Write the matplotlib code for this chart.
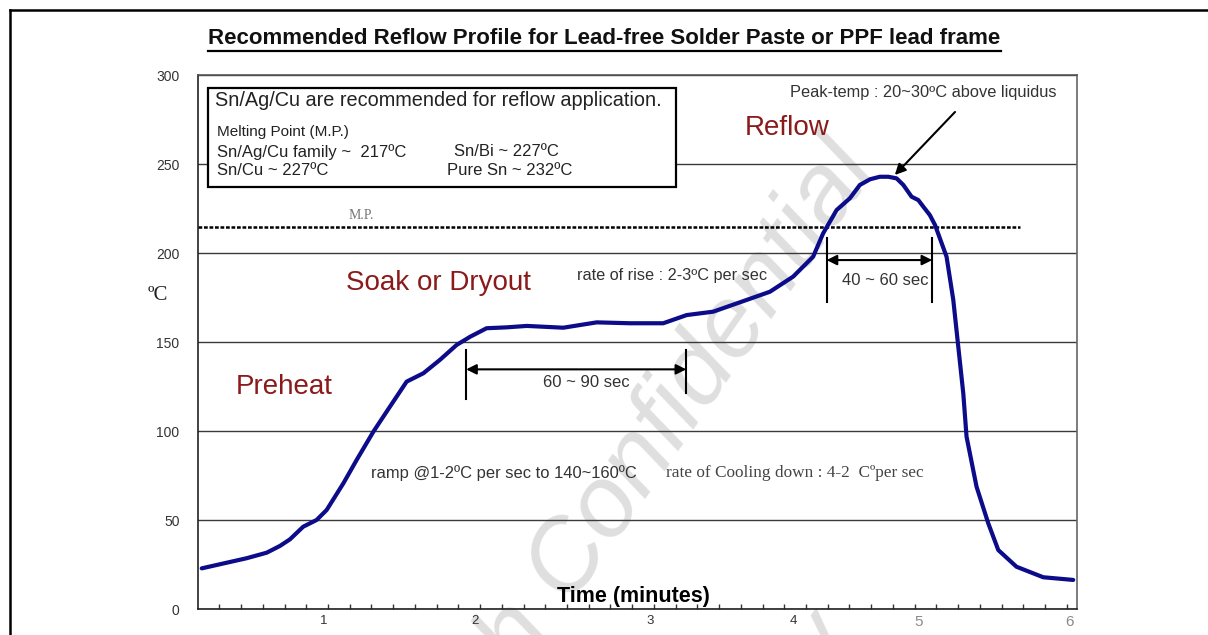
import matplotlib
matplotlib.use("Agg")
import matplotlib.pyplot as plt
from matplotlib.patches import Rectangle
from matplotlib.lines import Line2D

W, H = 1208, 635

# Oven profile: sample index along the time axis (one minor tick per step) and temperature in degC
time_idx = [0.19, 2.26, 3.18, 3.79, 4.25, 4.86, 5.48, 5.94, 6.71, 7.32, 8.09, 8.85,
            9.62, 10.39, 11.15, 11.92, 12.54, 13.30, 14.22, 15.15, 16.83, 18.37,
            19.90, 21.43, 22.51, 23.73, 25.27, 26.34, 27.41, 28.33, 28.79, 29.41,
            30.02, 30.48, 30.95, 31.40, 31.79, 32.17, 32.48, 32.86, 33.17, 33.40,
            33.70, 33.94, 34.47, 34.78, 35.01, 35.24, 35.39, 35.85, 36.39, 36.85,
            37.69, 38.92, 40.30]
temp_c = [23.0, 28.7, 31.8, 35.6, 39.3, 46.4, 50.2, 55.8, 70.8, 83.9, 99.8, 113.8,
          127.9, 132.6, 140.1, 148.5, 153.1, 157.9, 158.4, 159.2, 158.2, 161.2,
          160.7, 160.7, 165.3, 167.2, 173.8, 178.4, 186.9, 198.1, 211.2, 224.3,
          230.9, 238.4, 241.6, 243.0, 243.0, 242.1, 238.4, 231.8, 229.9, 226.2,
          221.5, 215.9, 198.1, 173.8, 147.5, 121.3, 97.0, 68.9, 48.3, 33.3,
          23.9, 18.0, 16.5]

minute_pos = [5.82, 12.77, 20.85, 27.41, 33.20, 40.15]
minute_lbl = ["1", "2", "3", "4", "5", "6"]
temp_ticks = [0, 50, 100, 150, 200, 250, 300]
melting_point = 215
x_max = 40.46

soak_span = (12.36, 22.49)     # 60 ~ 90 sec
liquid_span = (28.95, 33.81)   # 40 ~ 60 sec

plt.rcParams["font.family"] = ["Liberation Sans", "DejaVu Sans"]

fig = plt.figure(figsize=(W / 100, H / 100), dpi=100)
fig.patch.set_facecolor("white")


def fx(px):
    return px / W


def fy(py):
    return 1 - py / H


ax = fig.add_axes([fx(197.6), fy(609.3), (1076.7 - 197.6) / W, (609.3 - 75.3) / H])
ax.patch.set_visible(False)
ax.set_xlim(0, x_max)
ax.set_ylim(0, 300)

# y axis
ax.set_yticks(temp_ticks)
ax.set_yticklabels([str(t) for t in temp_ticks], fontsize=10, color="#333333")
ax.tick_params(axis="y", length=0, pad=13)
ax.yaxis.grid(True, color="#3a3a3a", lw=1.0)
ax.set_axisbelow(True)

# x axis: minute labels plus one minor tick per sample step
ax.set_xticks(minute_pos)
ax.set_xticklabels(minute_lbl, fontsize=9.5, color="#333333")
ax.set_xticks(range(1, 41), minor=True)
ax.tick_params(axis="x", which="major", length=0, pad=4)
ax.tick_params(axis="x", which="minor", length=3.5, direction="in", width=1, color="#333333")
for i, t in enumerate(ax.get_xticklabels()):
    if i >= 4:
        t.set_color("#8a8a8a")
        t.set_fontfamily(["Liberation Sans Narrow", "Liberation Sans"])
        t.set_fontsize(11)

for side, col in (("left", "#222222"), ("bottom", "#222222"), ("top", "#555555"), ("right", "#666666")):
    ax.spines[side].set_color(col)
    ax.spines[side].set_linewidth(1.2)

# profile curve
ax.plot(time_idx, temp_c, color="#0c0c8a", lw=3.0, solid_joinstyle="round",
        solid_capstyle="round", zorder=4)

# melting point line
ax.plot([0, 37.85], [melting_point, melting_point], color="black", lw=1.8,
        linestyle=(0, (1.5, 0.7)), zorder=3)
ax.text(7.55, 221.5, "M.P.", fontsize=10, color="#777777", family="Liberation Serif",
        ha="center", va="center")

# info box
ax.add_patch(Rectangle((0.48, 237.3), 21.54, 55.8, facecolor="white", edgecolor="black",
                       lw=1.6, zorder=3))
box_txt = dict(color="#222222", va="center", zorder=5)
ax.text(0.8, 285.6, "Sn/Ag/Cu are recommended for reflow application.", fontsize=14.3, **box_txt)
ax.text(0.9, 268.0, "Melting Point (M.P.)", fontsize=11, **box_txt)
ax.text(0.9, 257.0, "Sn/Ag/Cu family ~  217ºC", fontsize=12, **box_txt)
ax.text(11.8, 257.0, "Sn/Bi ~ 227ºC", fontsize=12, **box_txt)
ax.text(0.9, 246.5, "Sn/Cu ~ 227ºC", fontsize=12, **box_txt)
ax.text(11.5, 246.5, "Pure Sn ~ 232ºC", fontsize=12, **box_txt)

# zone names
zone = dict(fontsize=20, color="#8b1a1a", ha="center", va="center", zorder=5)
ax.text(27.12, 270.4, "Reflow", **zone)
ax.text(11.10, 183.1, "Soak or Dryout", **zone)
ax.text(3.98, 125.1, "Preheat", **zone)

# notes
note = dict(color="#333333", ha="center", va="center", zorder=5)
ax.text(33.38, 290.4, "Peak-temp : 20~30ºC above liquidus", fontsize=11.8, **note)
ax.text(21.82, 187.8, "rate of rise : 2-3ºC per sec", fontsize=11.7, **note)
ax.text(14.08, 76.4, "ramp @1-2ºC per sec to 140~160ºC", fontsize=11.9, **note)
ax.text(27.49, 76.7, "rate of Cooling down : 4-2  Cºper sec", fontsize=12.4, color="#444444",
        family="Liberation Serif", ha="center", va="center", zorder=5)
ax.text(17.89, 127.3, "60 ~ 90 sec", fontsize=12, **note)
ax.text(31.64, 184.6, "40 ~ 60 sec", fontsize=12, **note)

# peak arrow
ax.annotate("", xy=(32.09, 244.0), xytext=(34.86, 279.4),
            arrowprops=dict(arrowstyle="-|>", color="black", lw=1.5, mutation_scale=16,
                            shrinkA=0, shrinkB=0), zorder=6)

# duration arrows with end bars
for (x0, x1), y, bars in ((soak_span, 134.8, ((145.7, 118.1), (145.7, 121.7))),
                          (liquid_span, 196.2, ((208.4, 172.8), (208.4, 172.8)))):
    ax.annotate("", xy=(x1, y), xytext=(x0, y),
                arrowprops=dict(arrowstyle="<|-|>", color="black", lw=1.5, mutation_scale=15,
                                shrinkA=0, shrinkB=0), zorder=6)
    ax.plot([x0, x0], bars[0], color="black", lw=1.5, zorder=6)
    ax.plot([x1, x1], bars[1], color="black", lw=1.5, zorder=6)

# axis titles
ax.text(20.08, 7.1, "Time (minutes)", fontsize=15.5, fontweight="bold", color="black",
        ha="center", va="center", zorder=5)
fig.text(fx(158), fy(295), "ºC", fontsize=15, family="Liberation Serif", color="#222222",
         ha="center", va="center")

# title with underline
title = fig.text(fx(604.5), fy(39), "Recommended Reflow Profile for Lead-free Solder Paste or PPF lead frame",
                 fontsize=16, fontweight="bold", color="#111111", ha="center", va="center")
fig.canvas.draw()
bb = title.get_window_extent()
fig.add_artist(Line2D([bb.x0 / W, bb.x1 / W], [fy(51), fy(51)], color="black", lw=1.6))

# page frame
fig.add_artist(Line2D([fx(10), 1.0], [fy(10), fy(10)], color="black", lw=1.8))
fig.add_artist(Line2D([fx(10), fx(10)], [fy(10), 0.0], color="black", lw=1.8))

# watermark
wm = dict(fontsize=73, style="italic", color="#dfdfdf", rotation=55, rotation_mode="anchor",
          ha="left", va="baseline", zorder=-1)
fig.text(fx(522), fy(675), "h Confidential", **wm)
fig.text(fx(815), fy(700), "ly", **wm)

fig.savefig("out.png", dpi=100, facecolor="white")
